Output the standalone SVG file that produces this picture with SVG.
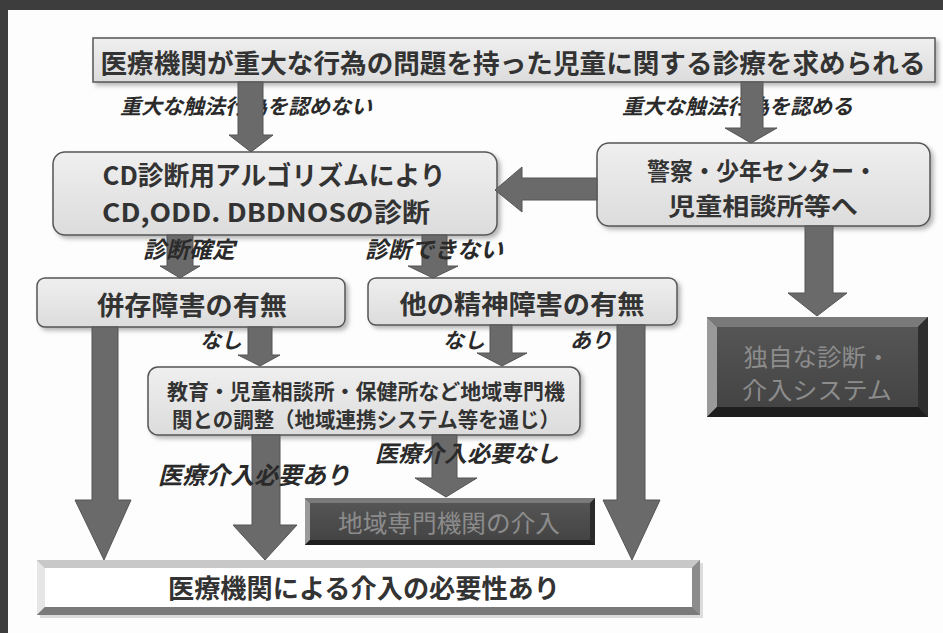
<svg xmlns="http://www.w3.org/2000/svg" width="943" height="633" viewBox="0 0 943 633">
<defs>
<linearGradient id="gbox" x1="0" y1="0" x2="0" y2="1">
<stop offset="0" stop-color="#efefef"/>
<stop offset="1" stop-color="#dcdcdc"/>
</linearGradient>
<linearGradient id="gdark" x1="0" y1="0" x2="0" y2="1">
<stop offset="0" stop-color="#555"/>
<stop offset="1" stop-color="#444"/>
</linearGradient>
<filter id="sh" x="-5%" y="-10%" width="115%" height="130%">
<feDropShadow dx="3" dy="3" stdDeviation="2" flood-color="#888" flood-opacity="0.6"/>
</filter>
<style>
.box{fill:url(#gbox);stroke:#555;stroke-width:1.5;filter:url(#sh)}
.t{font-family:"Noto Sans CJK JP","Noto Sans",sans-serif;font-weight:700;fill:#333}
.tm{text-anchor:middle}
.lab{font-family:"Noto Sans CJK JP","Noto Sans",sans-serif;font-weight:700;font-style:italic;fill:#2a2a2a}
.arr{fill:#6a6a6a;stroke:#555;stroke-width:1}
.dk{font-family:"Noto Sans CJK JP","Noto Sans",sans-serif;font-weight:400;fill:#8c8c8c;text-anchor:middle}
</style>
</defs>
<rect x="0" y="0" width="943" height="633" fill="#fdfdfd"/>
<rect x="0" y="0" width="943" height="10" fill="#3d3d3d"/>
<rect x="0" y="0" width="8" height="633" fill="#3d3d3d"/>

<g id="labels-top">
<text class="lab" x="120" y="114" font-size="21">重大な触法行為を認めない</text>
<text class="lab" x="622" y="114" font-size="21">重大な触法行為を認める</text>
</g>

<g id="n-top">
<rect x="93" y="38" width="842" height="44" fill="url(#gbox)" stroke="#555" stroke-width="1.5" filter="url(#sh)"/>
<text class="t tm" x="513" y="73" font-size="26.5" textLength="825" lengthAdjust="spacingAndGlyphs">医療機関が重大な行為の問題を持った児童に関する診療を求められる</text>
</g>

<g id="n-cd">
<rect class="box" x="53" y="152" width="444" height="83" rx="12"/>
<text class="t tm" x="274" y="185" font-size="26" textLength="343" lengthAdjust="spacingAndGlyphs">CD診断用アルゴリズムにより</text>
<text class="t tm" x="266" y="222" font-size="26" textLength="328" lengthAdjust="spacingAndGlyphs">CD,ODD. DBDNOSの診断</text>
</g>

<g id="n-police">
<rect class="box" x="597" y="143" width="333" height="83" rx="12"/>
<text class="t tm" x="762" y="180" font-size="24" textLength="230" lengthAdjust="spacingAndGlyphs">警察・少年センター・</text>
<text class="t tm" x="763" y="215" font-size="24" textLength="190" lengthAdjust="spacingAndGlyphs">児童相談所等へ</text>
</g>

<g id="n-heizon">
<rect class="box" x="37" y="278" width="308" height="49" rx="8"/>
<text class="t tm" x="192" y="315" font-size="26" textLength="190" lengthAdjust="spacingAndGlyphs">併存障害の有無</text>
</g>

<g id="n-hoka">
<rect class="box" x="368" y="278" width="309" height="47" rx="8"/>
<text class="t tm" x="522" y="314" font-size="26" textLength="245" lengthAdjust="spacingAndGlyphs">他の精神障害の有無</text>
</g>

<g id="n-kyoiku">
<rect class="box" x="148" y="367" width="432" height="68" rx="10"/>
<text class="t" x="167" y="399" font-size="21" fill="#222" textLength="398" lengthAdjust="spacingAndGlyphs">教育・児童相談所・保健所など地域専門機</text>
<text class="t" x="172" y="427" font-size="21" fill="#222" textLength="388" lengthAdjust="spacingAndGlyphs">関との調整（地域連携システム等を通じ）</text>
</g>

<g id="n-dokuji">
<rect x="707" y="317" width="221" height="100" fill="#2a2a2a"/>
<polygon points="707,317 928,317 918,327 717,327" fill="#7a7a7a"/>
<polygon points="707,317 717,327 717,407 707,417" fill="#9a9a9a"/>
<polygon points="707,417 717,407 918,407 928,417" fill="#1e1e1e"/>
<polygon points="928,317 928,417 918,407 918,327" fill="#2e2e2e"/>
<rect x="717" y="327" width="201" height="80" fill="url(#gdark)"/>
<text class="dk" x="817" y="366" font-size="24" textLength="147" lengthAdjust="spacingAndGlyphs">独自な診断・</text>
<text class="dk" x="817" y="399" font-size="24" textLength="150" lengthAdjust="spacingAndGlyphs">介入システム</text>
</g>

<g id="n-chiiki">
<rect x="305" y="498" width="290" height="47" fill="#2a2a2a"/>
<polygon points="305,498 595,498 590,503 310,503" fill="#7a7a7a"/>
<polygon points="305,498 310,503 310,540 305,545" fill="#999"/>
<polygon points="305,545 310,540 590,540 595,545" fill="#1e1e1e"/>
<rect x="310" y="503" width="280" height="37" fill="url(#gdark)"/>
<text class="dk" x="449" y="532" font-size="24" textLength="222" lengthAdjust="spacingAndGlyphs">地域専門機関の介入</text>
</g>

<g id="n-bottom">
<rect x="40" y="563" width="663" height="55" fill="#bbb" opacity="0.5"/>
<rect x="37" y="560" width="663" height="55" fill="#8a8a8a"/>
<polygon points="37,560 700,560 692,568 45,568" fill="#c8c8c8"/>
<polygon points="37,560 45,568 45,607 37,615" fill="#e6e6e6"/>
<polygon points="37,615 45,607 692,607 700,615" fill="#7a7a7a"/>
<polygon points="700,560 700,615 692,607 692,568" fill="#8c8c8c"/>
<rect x="45" y="568" width="647" height="39" fill="#ffffff"/>
<text class="t tm" x="364" y="598" font-size="26" fill="#1a1a1a" textLength="392" lengthAdjust="spacingAndGlyphs">医療機関による介入の必要性あり</text>
</g>

<g id="connectors">
<path class="arr" d="M238,82 L263,82 L263,135 L273,135 L251,152 L229,135 L238,135 Z"/>
<path class="arr" d="M741,82 L763,82 L763,128 L777,128 L751,143 L725,128 L741,128 Z"/>
<path class="arr" d="M597,178 L522,178 L522,167 L495,190 L522,212 L522,200 L597,200 Z"/>
<path class="arr" d="M805,226 L833,226 L833,293 L847,293 L817,316 L788,293 L805,293 Z"/>
<path class="arr" d="M167,235 L193,235 L193,266 L200,266 L180,278 L160,266 L167,266 Z"/>
<path class="arr" d="M422,235 L447,235 L447,266 L458,266 L433,278 L408,266 L422,266 Z"/>
<path class="arr" d="M92,327 L118,327 L118,500 L131,500 L104,560 L75,500 L92,500 Z"/>
<path class="arr" d="M248,327 L272,327 L272,355 L280,355 L260,366 L238,355 L248,355 Z"/>
<path class="arr" d="M490,325 L512,325 L512,353 L527,353 L502,366 L477,353 L490,353 Z"/>
<path class="arr" d="M617,325 L645,325 L645,500 L660,500 L632,560 L603,500 L617,500 Z"/>
<path class="arr" d="M252,435 L280,435 L280,525 L297,525 L265,560 L233,525 L252,525 Z"/>
<path class="arr" d="M432,435 L457,435 L457,478 L477,478 L446,497 L415,478 L432,478 Z"/>
</g>

<g id="labels">
<text class="lab" x="143" y="258" font-size="23">診断確定</text>
<text class="lab" x="365" y="258" font-size="23">診断できない</text>
<text class="lab" x="200" y="348" font-size="21">なし</text>
<text class="lab" x="443" y="348" font-size="21">なし</text>
<text class="lab" x="570" y="348" font-size="21">あり</text>
<text class="lab" x="158" y="484" font-size="24">医療介入必要あり</text>
<text class="lab" x="375" y="462" font-size="23">医療介入必要なし</text>
</g>
</svg>
